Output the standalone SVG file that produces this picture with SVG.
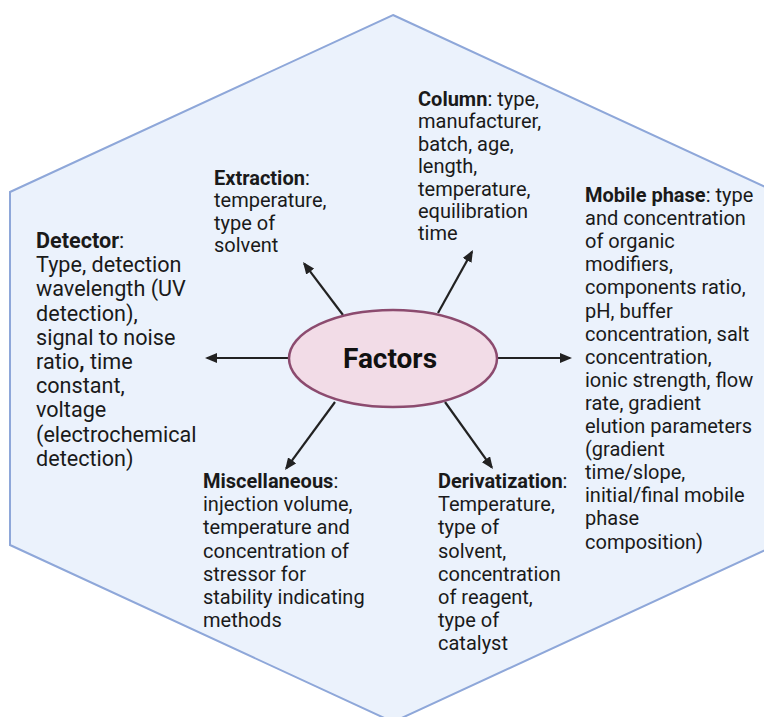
<svg xmlns="http://www.w3.org/2000/svg" width="764" height="717" viewBox="0 0 764 717">
  <defs>
    <marker id="arrow" viewBox="0 0 12 10" markerWidth="12" markerHeight="10" refX="10" refY="5" orient="auto" markerUnits="userSpaceOnUse">
      <path d="M0,0 L12,5 L0,10 z" fill="#222"/>
    </marker>
    <style>
      .hex { fill: #EBF2FC; stroke: #8EA7D9; stroke-width: 2; }
      .conn { stroke: #222; stroke-width: 2.2; fill: none; marker-end: url(#arrow); }
      .center { fill: #F2DCE7; stroke: #8C4B6F; stroke-width: 2.5; }
      .lbl { font-family: Roboto, "Liberation Sans", sans-serif; font-size: 20px; fill: #1a1a1a; }
      .big { font-size: 21.6px; }
      .b { font-weight: bold; }
      .title { font-family: Roboto, "Liberation Sans", sans-serif; font-size: 28px; font-weight: bold; fill: #111; }
    </style>
  </defs>
  <rect width="764" height="717" fill="#ffffff"/>
  <polygon class="hex" points="393,15 776,192 776,545 393,722 10,545 10,192"/>

  <g id="connectors">
    <line class="conn" x1="289" y1="358" x2="207" y2="358"/>
    <line class="conn" x1="343" y1="315" x2="304.2" y2="263.6"/>
    <line class="conn" x1="438" y1="313" x2="472" y2="251.7"/>
    <line class="conn" x1="497" y1="358" x2="570" y2="358"/>
    <line class="conn" x1="335" y1="402" x2="286.2" y2="468.4"/>
    <line class="conn" x1="445" y1="402" x2="491.8" y2="467.4"/>
  </g>

  <g id="factors">
    <ellipse class="center" cx="393" cy="358.5" rx="104" ry="48.5"/>
    <text class="title" x="390" y="368" text-anchor="middle">Factors</text>
  </g>

  <g id="detector">
    <text class="lbl big" x="36" y="248">
      <tspan x="36" y="248"><tspan class="b">Detector</tspan>:</tspan>
      <tspan x="36" y="272.2">Type, detection</tspan>
      <tspan x="36" y="296.4">wavelength (UV</tspan>
      <tspan x="36" y="320.6">detection),</tspan>
      <tspan x="36" y="344.8">signal to noise</tspan>
      <tspan x="36" y="369">ratio<tspan class="b">,</tspan> time</tspan>
      <tspan x="36" y="393.2">constant,</tspan>
      <tspan x="36" y="417.4">voltage</tspan>
      <tspan x="36" y="441.6">(electrochemical</tspan>
      <tspan x="36" y="465.8">detection)</tspan>
    </text>
  </g>

  <g id="extraction">
    <text class="lbl" x="214" y="185">
      <tspan x="214" y="185"><tspan class="b">Extraction</tspan>:</tspan>
      <tspan x="214" y="207.3">temperature,</tspan>
      <tspan x="214" y="229.6">type of</tspan>
      <tspan x="214" y="252">solvent</tspan>
    </text>
  </g>

  <g id="column">
    <text class="lbl" x="418" y="106">
      <tspan x="418" y="106"><tspan class="b">Column</tspan>: type,</tspan>
      <tspan x="418" y="128.4">manufacturer,</tspan>
      <tspan x="418" y="150.8">batch, age,</tspan>
      <tspan x="418" y="173.2">length,</tspan>
      <tspan x="418" y="195.6">temperature,</tspan>
      <tspan x="418" y="218">equilibration</tspan>
      <tspan x="418" y="240.4">time</tspan>
    </text>
  </g>

  <g id="mobile-phase">
    <text class="lbl" x="585" y="202">
      <tspan x="585" y="202"><tspan class="b">Mobile phase</tspan>: type</tspan>
      <tspan x="585" y="225.1">and concentration</tspan>
      <tspan x="585" y="248.2">of organic</tspan>
      <tspan x="585" y="271.3">modifiers,</tspan>
      <tspan x="585" y="294.4">components ratio,</tspan>
      <tspan x="585" y="317.5">pH, buffer</tspan>
      <tspan x="585" y="340.6">concentration, salt</tspan>
      <tspan x="585" y="363.7">concentration,</tspan>
      <tspan x="585" y="386.8">ionic strength, flow</tspan>
      <tspan x="585" y="409.9">rate, gradient</tspan>
      <tspan x="585" y="433">elution parameters</tspan>
      <tspan x="585" y="456.1">(gradient</tspan>
      <tspan x="585" y="479.2">time/slope,</tspan>
      <tspan x="585" y="502.3">initial/final mobile</tspan>
      <tspan x="585" y="525.4">phase</tspan>
      <tspan x="585" y="548.5">composition)</tspan>
    </text>
  </g>

  <g id="miscellaneous">
    <text class="lbl" x="203" y="488">
      <tspan x="203" y="488"><tspan class="b">Miscellaneous</tspan>:</tspan>
      <tspan x="203" y="511.2">injection volume,</tspan>
      <tspan x="203" y="534.4">temperature and</tspan>
      <tspan x="203" y="557.6">concentration of</tspan>
      <tspan x="203" y="580.8">stressor for</tspan>
      <tspan x="203" y="604">stability indicating</tspan>
      <tspan x="203" y="627.2">methods</tspan>
    </text>
  </g>

  <g id="derivatization">
    <text class="lbl" x="438" y="488">
      <tspan x="438" y="488"><tspan class="b">Derivatization</tspan>:</tspan>
      <tspan x="438" y="511.2">Temperature,</tspan>
      <tspan x="438" y="534.4">type of</tspan>
      <tspan x="438" y="557.6">solvent,</tspan>
      <tspan x="438" y="580.8">concentration</tspan>
      <tspan x="438" y="604">of reagent,</tspan>
      <tspan x="438" y="627.2">type of</tspan>
      <tspan x="438" y="650.4">catalyst</tspan>
    </text>
  </g>
</svg>
